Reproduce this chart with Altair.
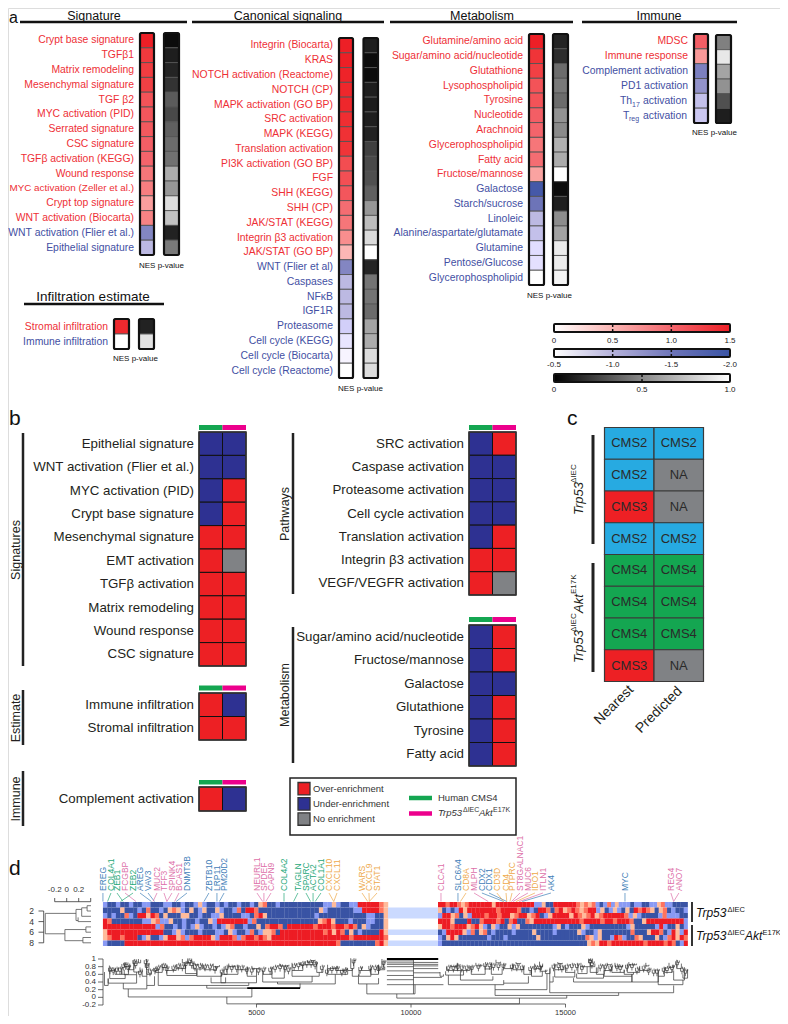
import altair as alt
import pandas as pd

FONT = "Liberation Sans"
RED_T, BLUE_T = "#ee2f36", "#434fa3"

# ---------- panel a data ----------
sig_labels = ["Crypt base signature","TGFβ1","Matrix remodeling","Mesenchymal signature","TGF β2","MYC activation (PID)",
              "Serrated signature","CSC signature","TGFβ activation (KEGG)","Wound response","MYC activation (Zeller et al.)",
              "Crypt top signature","WNT activation (Biocarta)","WNT activation (Flier et al.)","Epithelial signature"]
sig_nes = [1.5,1.35,1.32,1.3,1.15,1.12,1.1,1.05,1.0,.9,.85,.65,.82,-1.35,-.95]
sig_p = [.02,.1,.13,.2,.38,.3,.4,.45,.47,.7,.62,.88,.78,.12,.5]
can_labels = ["Integrin (Biocarta)","KRAS\u00a0\u00a0","NOTCH activation (Reactome)","NOTCH (CP)","MAPK activation (GO BP)","SRC activation",
              "MAPK (KEGG)","Translation activation","PI3K activation (GO BP)","FGF\u00a0\u00a0","SHH (KEGG)","SHH (CP)","JAK/STAT (KEGG)",
              "Integrin β3 activation","JAK/STAT (GO BP)","WNT (Flier et al)","Caspases","NFκB","IGF1R","Proteasome",
              "Cell cycle (KEGG)","Cell cycle (Biocarta)","Cell cycle (Reactome)"]
can_nes = [1.5,1.5,1.48,1.46,1.46,1.42,1.4,1.38,1.2,1.18,1.12,.95,.9,.75,.48,-1.35,-.95,-.95,-.95,-.8,-.65,-.55,-.5]
can_p = [.1,.02,.02,.1,.09,.1,.12,.26,.3,.33,.4,.62,.76,.87,1.0,.13,.48,.48,.45,.67,.7,.88,.88]
met_labels = ["Glutamine/amino acid","Sugar/amino acid/nucleotide","Glutathione","Lysophospholipid","Tyrosine","Nucleotide","Arachnoid",
              "Glycerophospholipid","Fatty acid","Fructose/mannose","Galactose","Starch/sucrose","Linoleic","Alanine/aspartate/glutamate",
              "Glutamine","Pentose/Glucose","Glycerophospholipid"]
met_nes = [1.5,1.38,1.3,1.15,1.15,1.05,1.0,.9,.95,.62,-1.9,-1.5,-.95,-.9,-.7,-.68,-.5]
met_p = [.13,.17,.45,.5,.45,.6,.57,.72,.7,1.0,.02,.1,.58,.66,.93,.93,.96]
imm_labels = ["MDSC","Immune response","Complement activation","PD1 activation\u00a0","",""]
imm_nes = [1.05,.68,-1.4,-1.25,-.9,-.85]
imm_p = [.53,.92,.67,.6,.33,.1]
inf_labels = ["Stromal infiltration","Immune infiltration"]
inf_nes = [1.45,-.5]
inf_p = [.12,.9]

# ---------- panel b/c data ----------
b_sig_labels = ["Epithelial signature","WNT activation (Flier et al.)","MYC activation (PID)","Crypt base signature","Mesenchymal signature",
                "EMT activation","TGFβ activation","Matrix remodeling","Wound response","CSC signature"]
b_sig = ["BB","BB","BR","BR","RR","RG","RR","RR","RR","RR"]
b_est_labels = ["Immune infiltration","Stromal infiltration"]
b_est = ["RB","RR"]
b_imm_labels = ["Complement activation"]
b_imm = ["RB"]
b_path_labels = ["SRC activation","Caspase activation","Proteasome activation","Cell cycle activation","Translation activation",
                 "Integrin β3 activation","VEGF/VEGFR activation"]
b_path = ["BR","BB","BB","BB","BR","RR","RG"]
b_met_labels = ["Sugar/amino acid/nucleotide","Fructose/mannose","Galactose","Glutathione","Tyrosine","Fatty acid"]
b_met = ["BR","BR","BB","BR","BR","BR"]
cms_nearest = ["CMS2","CMS2","CMS3","CMS2","CMS4","CMS4","CMS4","CMS3"]
cms_pred = ["CMS2","NA","NA","CMS2","CMS4","CMS4","CMS4","NA"]

# ---------- panel d data ----------
heat_left = [
 "bBBbBBbBBbbBBBbbBBbBBbwbBBbBbBBbBBbBwpBBbBBBBBBBBBBbbwbBBbbRRRRRpw",
 "BBBBwBBBbBpBBbBwpwbBwBbwBBwbBBbpBRRpBBBBBBBBBBBBBBwbBBBBBBbbRRRRpw",
 "bBbBBpbBRRwRpBwBBBwwBBbBBbbwBBBBbbBpRwBBBBBBBBBBBbBBBBBBBBBBBbbBBw",
 "RpBBBBBBBbbwpbbwBBbBBbBBwbRRRRRRRbpBBBBBBBBBBBBBBwpRwBBBbBBBbbBBw",
 "RRRRRRRRRRRRbpBBbBbBbwbBBbBbwpBBbBBwBpRRpBRRRRRRpRRRpRRpRpBwbBBBw",
 "wRRRRRRRRRRRRRBBbwbBBBbBBBbbBwbBBbpBbwwpBRRRRRRRRRRpRwRpBwBbBBBBRw",
 "wpRRpRRRBbwBBbwRRwpbpRRRRwbRRRpbpRRpRpwRRRRRRRRRRRRRRRRRRpRRRRRRRp",
 "bBBBBRRRRRRRRRRRRRRRRRRRRRRRRRRRRRRRRRRRRRRRRRRRRRRRRRpBBBBBBBBpRw"]
heat_right = [
 "RRpRRpwpRRRRRRwRRRRRRRRRRbbwBBRRRRRRpwpwpbBbpbwbbbBbbBBbbwpbbBBBB",
 "wBbBbRwRRRRRRRpRRRRpBBbBRRpBpRwpRpwpRRbwBbwbBwBRpRpwBwpBbBBb",
 "bRRwpBwbRRRpRRpRRwpRRwpRBbwRRRRwRpwpRwpRRRRRpbwbBBBBbpbbbBB",
 "RRRwBBBRBBpRRRpRBpRBBpwRRRRRRRRRRRpRRRRpRRpRRRpBBwRRRRRRRRRb",
 "wRRpRRRwpRwbBwbBBwbwBBBBBBBBbwBbBBBwbBBBBBBBBBbwBBBBBbRbBBwBb",
 "BbRRRRwbpBwpBbBBBBbBBBBwBBBBbBBBBBwbBBbwBBBBBBBpBBBwRRpBbRwbR",
 "bBwRwBBBBBBBbBBBbBBBBBBBwBBBBBBBBBBBpwbwBBbRpbBBpwBBBwBbpRwRp",
 "bBBBBBBBBBBBBBBBBBBBBBBBBBBBBBBBBBBBBwpwRRpRRRRRRRRpRRRRpRpBbR"]
gap_rows = [0,1,1,0,0,1,0,1]
level = {"B":-2,"b":-1.1,"w":0,"p":1,"R":2}

genes = ["EREG","COL4A1","ZEB1","FCGBP","ZEB2","AREG","VAV3","MUC2","TFF3","SPINK4","BCAS1","DNMT3B","ZBTB10","LRP11","PM20D2",
         "NEURL1","SPDEF","CAPN9","COL4A2","TAGLN","SPARC","ACTA2","COL1A1","CXCL10","CXCL11","WARS","CXCL9","STAT1","CLCA1","SLC6A4",
         "CD8A","MLPH","CDX2","CDX1","CD3D","CD4","PTPRC","ST8GALNAC1","MUC6","IDO1","ITLN1","AK4","MYC","REG4","ANO7"]
gene_group = "bggpgbbppppb bbb ppp g gggg oo ooo p b o p bb oo o p p o p b b p p".replace(" ","")
gene_lab_x = [30,290,485,745,1005,1230,1490,1780,2005,2265,2490,2750,3460,3720,3950,5015,5240,5470,5890,6340,6600,6830,7085,7345,7605,
              8415,8640,8900,10970,11520,11780,12040,12295,12525,12780,13075,13270,13525,13785,14010,14270,14530,16925,18410,18670]
gene_tgt_x = [30,180,680,1100,600,1600,1700,1650,2100,2100,2350,2400,3300,3720,3800,5200,5240,5300,5890,6200,6750,6830,6900,7500,7500,
              8600,8650,8650,10970,11520,11600,12500,13000,13100,13000,13100,13200,13250,13300,13400,13500,13600,16925,18500,18500]
group_color = {"b":"#3f80b8","g":"#25a878","p":"#dd6fa8","o":"#eea94a"}

# bracket: left gene, right gene, merge height, left-leg top, right-leg top
col_tree = [
 (4040,13510,-.17,.01,-.02),(850,4850,.01,.22,.24),(690,1450,.22,.37,.31),(200,1120,.37,.49,.59),(80,200,.31,.66,.49),
 (1450,1700,.31,.55,.55),(250,750,.49,.70,.60),(240,420,.70,.83,.74),(420,640,.60,.72,.76),(640,860,.60,.68,.77),(720,1120,.59,.72,.66),
 (880,1030,.72,.85,.80),(740,900,.80,.92,.88),(1030,1230,.66,.98,.78),(1180,1250,.90,1.0,.98),(1300,1450,.55,.75,.70),
 (1440,1520,.72,1.0,.9),(1450,1600,.60,.7,.65),(1820,4750,.31,.65,.38),(1730,1950,.65,.7,.78),(1950,2100,.78,.88,.85),(1700,1820,.7,.76,.76),
 (2100,3070,.57,.7,.62),(2100,2400,.7,.85,.75),(2400,2700,.75,.86,.9),(2600,2800,.9,1.0,.93),(2700,3070,.62,.82,.74),(2780,2900,.90,1.02,.98),
 (2950,3250,.74,.9,.85),(3000,3100,.85,.9,.88),(3530,4000,.38,.52,.52),(3070,3870,.55,.72,.6),(3300,3700,.72,.85,.8),(3600,3800,.8,.88,.84),
 (3870,4050,.6,.66,.78),(3850,5000,.38,.6,.55),(3950,4400,.6,.8,.72),(4100,4300,.8,.88,.84),(4400,4700,.72,.85,.78),(4700,5000,.55,.8,.75),
 (4850,5100,.75,.82,.78),(3390,6410,.24,.31,.36),(5680,7550,.35,.40,.60),(5200,6800,.40,.6,.55),(5200,5500,.6,.72,.8),(5500,5900,.5,.68,.82),
 (5750,6050,.82,.88,.85),(6150,7030,.55,.7,.65),(6150,6500,.7,.9,.85),(6400,6950,.85,.9,.92),(6650,6950,.92,.96,.94),(6750,6900,.96,.99,.98),
 (6950,7150,.65,.86,.75),(7300,7950,.60,.75,.7),(7300,7600,.75,.85,.8),(7600,7900,.7,.82,.78),(7950,8100,.7,.75,.75),(8050,8150,.75,1.02,.98),
 (8100,8300,.55,.75,.6),(8570,10130,.09,.35,.33),(8300,8950,.35,.55,.5),(8320,8700,.55,.7,.75),(8700,8950,.6,.78,.85),(8950,9150,.72,.85,.8),
 (8400,8700,.7,.78,.74),(9060,9120,.75,1.0,.95),(10940,11050,.55,.66,.6),(9540,15040,-.02,.09,.05),(12720,16720,.05,.20,.12),
 (12720,14400,.20,.33,.62),(11210,13000,.33,.58,.37),(13000,13800,.37,.45,.55),(11120,11700,.58,.68,.7),(11150,11500,.7,.8,.74),
 (11300,11500,.8,.85,.88),(11600,12650,.45,.7,.55),(11500,11900,.7,.9,.8),(11950,12400,.6,.82,.74),(12100,12300,.82,.9,.85),
 (12400,12600,.74,.85,.8),(12600,12950,.6,.9,.75),(12750,12900,.9,.98,.93),(13000,13300,.75,.88,.85),(13300,13650,.72,.88,.8),
 (13400,13550,.88,.92,.9),(13650,13900,.6,.8,.7),(13900,14250,.55,.75,.68),(14000,14200,.75,.88,.82),(14200,14400,.68,.8,.72),
 (14350,14500,.62,.72,.78),(14160,14260,.8,.93,.88),(14490,18500,.12,.40,.31),(14490,14600,.40,.75,.55),(14650,15300,.53,.72,.65),
 (14650,14950,.72,.88,.8),(14750,14900,.88,.92,.9),(15000,15300,.65,.78,.72),(15260,17150,.40,.5,.55),(15360,16230,.5,.62,.6),
 (15400,15700,.62,.88,.8),(15500,15950,.8,.9,.88),(15800,16050,.65,.88,.78),(15750,15850,.9,1.01,.95),(15780,15820,.95,1.0,1.0),
 (16000,16250,.6,.78,.7),(16250,17150,.55,.7,.6),(16250,16500,.7,.85,.8),(16350,16500,.85,.9,.88),(16500,16900,.65,.8,.72),
 (16600,16850,.8,.9,.85),(16900,17200,.6,.72,.65),(17000,17400,.65,.85,.75),(17050,17300,.85,.92,.88),(17400,17700,.7,.82,.76),
 (17600,17700,.82,.9,.85),(18000,18800,.33,.55,.45),(18000,18200,.55,.72,.65),(18200,18450,.65,.78,.72),(18350,18500,.78,.9,.85),
 (18500,18850,.45,.7,.75),(18600,18750,.75,.98,.88),(18800,18950,.5,.6,.72),(17150,18000,.40,.6,.65)]
chain_left = [.95,.90,.86,.80,.69,.57,.46,.33]
chain_right = [1.0,.91,.86,.82,.75,.64,.52,.33]
chain_right_end = [10880,10880,10880,10880,10880,10940,11000,11050]
# small terminal tufts: position on the gene axis, height of the tip
tuft_gene = [256,364,472,580,688,764,850,1044,1088,1228,1412,1444,1552,1714,1822,1984,2092,2308,2470,2600,2708,2826,2902,3010,3172,3334,3496,
             3658,3874,4036,4198,4360,4522,4684,4846,5062,5224,5440,5602,5764,5926,6034,6218,6358,6488,6628,6768,6898,7114,7276,7438,7600,7762,
             7870,8140,8356,8680,8842,8950,9112,11210,11372,11512,11642,11804,11966,12182,12398,12538,12668,12830,12992,13262,13424,13586,13856,
             14018,14180,14612,14774,14882,15044,15206,15368,15530,15800,15854,16124,16286,16448,16664,16772,16988,17150,17312,17528,17690,17852,
             17960,18176,18284,18446,18608,18770,18878]
tuft_top = [.8,.78,.8,.8,.9,.92,.85,1.0,.95,.72,1.0,.9,.75,.8,.85,.9,.82,.85,.9,.88,.95,1.02,.95,.88,.9,.88,.88,.82,.75,.85,.85,.85,.85,.8,.78,.78,.8,.8,
            .85,.87,.85,.8,.9,.92,.95,.97,.97,.93,.85,.75,.82,.82,.75,.78,1.02,.82,.85,.85,.82,.98,.85,.85,.88,.85,.85,.85,.88,.92,.92,.9,.9,.9,.88,.88,.85,.82,
            .85,.85,.88,.9,.85,.88,.9,.9,.85,1.02,.95,.88,.88,.85,.88,.85,.88,.9,.8,.85,.78,.75,.75,.8,.82,.85,.97,.8,.75]

# row dendrogram: height1, row1, height2, row2
row_tree = [(-.357,2.45,-.357,6.3),(-.357,2.45,.155,2.45),(.155,1.7,.155,3.8),(.155,1.7,.25,1.7),(.155,3.8,.19,3.8),(.19,3.2,.19,4),
            (.19,4,.405,4),(.25,1.4,.25,3),(.25,3,.405,3),(.25,1.4,.34,1.4),(.34,1,.34,2),(.34,1,.405,1),(.34,2,.405,2),
            (-.357,6.3,-.03,6.3),(-.03,5.5,-.03,7.6),(-.03,5.5,.32,5.5),(.32,5,.32,6),(.32,5,.405,5),(.32,6,.405,6),
            (-.03,7.6,.27,7.6),(.27,7,.27,8),(.27,7,.405,7),(.27,8,.405,8)]

# ---------- helpers ----------
def ps(dom, a, b):
    return alt.Scale(domain=dom, range=[a-8, b-8], nice=False, zero=False)
def X(f, s): return alt.X(f, type="quantitative", scale=s, axis=None)
def Y(f, s): return alt.Y(f, type="quantitative", scale=s, axis=None)
def V(v): return alt.value(v-8)

nes_scale = alt.Scale(domain=[-2,-1.5,-1,-.5,0,.5,1,1.5],
                      range=["#3953a4","#6d74b8","#b5b2db","#ffffff","#ffffff","#fab5b3","#f3646b","#ed1f26"], clamp=True)
gray_scale = alt.Scale(domain=[0,1], range=["#050505","#ffffff"])
enrich_scale = alt.Scale(domain=["R","B","G"], range=["#ed2024","#2e3192","#808285"])
cms_scale = alt.Scale(domain=["CMS2","CMS3","CMS4","NA"], range=["#27aae1","#ed2024","#14a651","#808285"])
heat_scale = alt.Scale(domain=[-2,0,2], range=["#3953a4","#ffffff","#ed1c24"])

def txt(s, x, y, size=10, color="#111", italic=False, align="left", angle=0, baseline="alphabetic"):
    kw = dict(fontStyle="italic") if italic else {}
    return alt.Chart(pd.DataFrame({"t":[s]})).mark_text(fontSize=size, color=color, align=align, angle=angle, baseline=baseline, font=FONT, **kw).encode(
        x=V(x), y=V(y), text="t:N")
def hrule(x1, x2, y, w=2.5, color="#111"):
    return alt.Chart(pd.DataFrame({"a":[0]})).mark_rule(strokeWidth=w, color=color).encode(x=V(x1), x2=V(x2), y=V(y))
def vrule(x, y1, y2, w=2.5, color="#222"):
    return alt.Chart(pd.DataFrame({"a":[0]})).mark_rule(strokeWidth=w, color=color).encode(x=V(x), y=V(y1), y2=V(y2))

def strip(vals, scale, xa, xb, ya, yb, labels=None, lab_gap=6):
    n = len(vals)
    df = pd.DataFrame({"x0":0,"x1":1,"r0":range(n),"r1":[i+1 for i in range(n)],"v":vals})
    sx, sy = ps([0,1],xa,xb), ps([0,n],ya,yb)
    rects = alt.Chart(df).mark_rect(stroke="#555", strokeWidth=.9).encode(
        x=X("x0",sx), x2=alt.X2("x1"), y=Y("r0",sy), y2=alt.Y2("r1"), color=alt.Color("v:Q",scale=scale,legend=None))
    fr = alt.Chart(pd.DataFrame({"x0":[0],"x1":[1],"r0":[0],"r1":[n]})).mark_rect(fillOpacity=0, stroke="#111", strokeWidth=2.2, cornerRadius=1.5).encode(
        x=X("x0",sx), x2=alt.X2("x1"), y=Y("r0",sy), y2=alt.Y2("r1"))
    parts = [rects, fr]
    if labels is not None:
        ld = pd.DataFrame({"x0":0,"r":[i+.5 for i in range(n)],"t":labels,"v":vals,
                           "fs":[9.9 if "Zeller" in t else 10.4 for t in labels]})
        for col, flt in ((RED_T, ld.v>0),(BLUE_T, ld.v<=0)):
            parts.append(alt.Chart(ld[flt]).mark_text(align="right", baseline="middle", color=col, dx=-lab_gap, font=FONT).encode(
                x=X("x0",sx), y=Y("r",sy), text="t:N", size=alt.Size("fs:Q",scale=None)))
    return alt.layer(*parts)

def enrich(rows, labels, xa, xb, ya, yb, stroke="#111"):
    n = len(rows)
    recs = [{"c":j,"c1":j+1,"r":i,"r1":i+1,"k":rows[i][j]} for i in range(n) for j in range(2)]
    sx, sy = ps([0,2],xa,xb), ps([0,n],ya,yb)
    p = [alt.Chart(pd.DataFrame(recs)).mark_rect(stroke=stroke, strokeWidth=1).encode(
            x=X("c",sx), x2=alt.X2("c1"), y=Y("r",sy), y2=alt.Y2("r1"), color=alt.Color("k:N",scale=enrich_scale,legend=None)),
         alt.Chart(pd.DataFrame({"c":[0],"c1":[2],"r":[0],"r1":[n]})).mark_rect(fillOpacity=0, stroke="#333", strokeWidth=1.5).encode(
            x=X("c",sx), x2=alt.X2("c1"), y=Y("r",sy), y2=alt.Y2("r1")),
         alt.Chart(pd.DataFrame({"c":0,"r":[i+.5 for i in range(n)],"t":labels})).mark_text(align="right", baseline="middle", fontSize=13.3, color="#231f20", dx=-5, font=FONT).encode(
            x=X("c",sx), y=Y("r",sy), text="t:N")]
    return alt.layer(*p)

def top_bar(xa, xb, ya, yb):
    sx = ps([0,2],xa,xb)
    d = pd.DataFrame({"c":[0,1],"c1":[1,2],"k":["Human CMS4","Trp53"]})
    return alt.Chart(d).mark_rect().encode(x=X("c",sx), x2=alt.X2("c1"), y=V(ya), y2=V(yb),
        color=alt.Color("k:N",scale=alt.Scale(domain=["Human CMS4","Trp53"],range=["#14a651","#ec008c"]),legend=None))

def cbar(dom, ticks, tick_labels, stops, xa, xb, ya, yb, ylab, marks):
    sx = ps(dom,xa,xb)
    grad = alt.LinearGradient(gradient="linear", x1=0, x2=1, y1=0, y2=0,
             stops=[alt.GradientStop(color=c, offset=o) for o,c in stops])
    bar = alt.Chart(pd.DataFrame({"a":[dom[0]],"b":[dom[1]]})).mark_rect(color=grad, stroke="#111", strokeWidth=2, cornerRadius=1).encode(
        x=X("a",sx), x2=alt.X2("b"), y=V(ya), y2=V(yb))
    tk1 = alt.Chart(pd.DataFrame({"v":marks})).mark_rule(color="#111", strokeWidth=1.5).encode(x=X("v",sx), y=V(ya), y2=V(ya+3))
    tk2 = alt.Chart(pd.DataFrame({"v":marks})).mark_rule(color="#111", strokeWidth=1.5).encode(x=X("v",sx), y=V(yb-3), y2=V(yb))
    lab = alt.Chart(pd.DataFrame({"v":ticks,"t":tick_labels})).mark_text(fontSize=8, color="#222", font=FONT).encode(x=X("v",sx), y=V(ylab), text="t:N")
    return alt.layer(bar,tk1,tk2,lab)

panels = []

# ---------- panel a ----------
panels += [txt("a",9,23,16), txt("b",9,425,21), txt("c",567,425,21), txt("d",9,875,21)]
for s,cx,(x1,x2) in (("Signature",94,(20,187)),("Canonical signaling",288,(192,384)),("Metabolism",482,(390,573)),("Immune",659,(582,737))):
    panels += [txt(s,cx,19.5,12.5,align="center"), hrule(x1,x2,22)]
panels += [txt("Infiltration estimate",93,301,13.5,align="center"), hrule(24,164,304)]
panels += [strip(sig_nes,nes_scale,140,154,33,255,sig_labels), strip(sig_p,gray_scale,164,179,33,255)]
panels += [strip(can_nes,nes_scale,339,353,38,378,can_labels), strip(can_p,gray_scale,363.5,378,38,378)]
panels += [strip(met_nes,nes_scale,529,544,34,285,met_labels), strip(met_p,gray_scale,553,568,34,285)]
panels += [strip(imm_nes,nes_scale,694,708,34,123,imm_labels), strip(imm_p,gray_scale,716,731,35,123)]
panels += [strip(inf_nes,nes_scale,114,129,319,349,inf_labels), strip(inf_p,gray_scale,139,154,319,349)]
for x,y in ((139,268),(338,391),(527,298),(692,135),(113,361)):
    panels.append(txt("NES p-value",x,y,8))
panels += [txt("Th",620,104,10.4,BLUE_T), txt("17",632,107,7,BLUE_T), txt("activation",687,103.5,10.4,BLUE_T,align="right"),
           txt("T",623,118.5,10.4,BLUE_T), txt("reg",629,121,7,BLUE_T), txt("activation",687,118.5,10.4,BLUE_T,align="right")]
panels += [
 cbar([0,1.5],[0,.5,1,1.5],["0","0.5","1.0","1.5"],[(0,"#ffffff"),(.33,"#fab5b3"),(.67,"#f3646b"),(1,"#ed1f26")],554,730,324,332,341,[.5,1]),
 cbar([-.5,-2],[-.5,-1,-1.5,-2],["-0.5","-1.0","-1.5","-2.0"],[(0,"#ffffff"),(.33,"#b5b2db"),(.67,"#6d74b8"),(1,"#3953a4")],554,730,349,357,365,[-1,-1.5]),
 cbar([0,1],[0,.5,1],["0","0.5","1.0"],[(0,"#000000"),(.5,"#888888"),(1,"#ffffff")],554,730,374,382,390,[.5])]

# ---------- panel b ----------
panels += [enrich(b_sig,b_sig_labels,199,246,432,666), top_bar(199,246,425,430),
           enrich(b_est,b_est_labels,199,246,693,740), top_bar(199,246,685.5,690.5),
           enrich(b_imm,b_imm_labels,199,246,787,811), top_bar(199,246,780,784.5),
           enrich(b_path,b_path_labels,469,516,432,595), top_bar(469,516,425,430),
           enrich(b_met,b_met_labels,469,516,625,766), top_bar(469,516,617,622)]
panels += [vrule(23,433,666), vrule(23,690,745), vrule(23,771,826), vrule(293,433,594), vrule(293,627,763)]
for s,x,y in (("Signatures",16,550),("Estimate",16,718),("Immune",16,799),("Pathways",285,514),("Metabolism",285,695)):
    panels.append(txt(s,x,y,12.5,"#231f20",align="center",angle=270,baseline="middle"))

# legend of panel b
lg = alt.Chart(pd.DataFrame({"a":[0]})).mark_rect(fillOpacity=0, stroke="#222", strokeWidth=1.5).encode(x=V(290), x2=V(516), y=V(778), y2=V(835))
panels.append(lg)
leg_k, leg_t = ["R","B","G"], ["Over-enrichment","Under-enrichment","No enrichment"]
sly = ps([0,3],782.5,828)
leg_df = pd.DataFrame({"i":[0,1,2],"i1":[.82,1.82,2.82],"k":leg_k,"t":leg_t,"m":[.42,1.42,2.42]})
panels.append(alt.layer(
    alt.Chart(leg_df).mark_rect(stroke="#333", strokeWidth=1.3).encode(x=V(298), x2=V(310), y=Y("i",sly), y2=alt.Y2("i1"),
        color=alt.Color("k:N",scale=enrich_scale,legend=None)),
    alt.Chart(leg_df).mark_text(align="left", baseline="middle", fontSize=9.5, color="#333", font=FONT).encode(x=V(313), y=Y("m",sly), text="t:N")))
panels += [hrule(409,432,798,4.5,"#14a651"), hrule(409,432,813.5,4.5,"#ec008c"), txt("Human CMS4",438,801,9.5,"#333"),
           txt("Trp53",438,815.5,9.5,"#333",True), txt("ΔIEC",463,811.5,7,"#333"), txt("Akt",479,815.5,9.5,"#333",True), txt("E17K",493,811.5,7,"#333")]

# ---------- panel c ----------
c_rows = [{"c":j,"c1":j+1,"r":i,"r1":i+1,"m":i+.5,"n":j+.5,"k":(cms_nearest,cms_pred)[j][i]} for i in range(8) for j in range(2)]
csx, csy = ps([0,2],604.5,703.5), ps([0,8],427.5,681.5)
panels.append(alt.layer(
    alt.Chart(pd.DataFrame(c_rows)).mark_rect(stroke="#3a3a3a", strokeWidth=1.2).encode(x=X("c",csx), x2=alt.X2("c1"), y=Y("r",csy), y2=alt.Y2("r1"),
        color=alt.Color("k:N",scale=cms_scale,legend=None)),
    alt.Chart(pd.DataFrame(c_rows)).mark_text(fontSize=13, color="#2a2a2a", baseline="middle", font=FONT).encode(x=X("n",csx), y=Y("m",csy), text="k:N")))
panels += [vrule(593,435,544,3), vrule(593,563,672,3),
           txt("Nearest",614,705,14,"#231f20",align="center",angle=315,baseline="middle"),
           txt("Predicted",659,710,14,"#231f20",align="center",angle=315,baseline="middle")]
panels += [txt("Trp53",583,515,13,"#231f20",True,angle=270), txt("ΔIEC",576,483,8,"#231f20",angle=270),
           txt("Trp53",583,663,13,"#231f20",True,angle=270), txt("ΔIEC",576,632,8,"#231f20",angle=270),
           txt("Akt",583,613,13,"#231f20",True,angle=270), txt("E17K",576,594,8,"#231f20",angle=270)]

# ---------- panel d ----------
gx = ps([0,19000],102,102+19000*.0309)
gx_left, gx_gap0, gx_gap1, gx_right = 30, 9255, 10873, 18960
recs = []
for r in range(8):
    w = (gx_gap0-gx_left)/len(heat_left[r])
    for i,ch in enumerate(heat_left[r]):
        recs.append({"a":gx_left+i*w,"b":gx_left+(i+1)*w+8,"r":r,"r1":r+1,"v":level[ch]})
    w = (gx_right-gx_gap1)/len(heat_right[r])
    for i,ch in enumerate(heat_right[r]):
        recs.append({"a":gx_gap1+i*w,"b":gx_gap1+(i+1)*w+(8 if i<len(heat_right[r])-1 else 0),"r":r,"r1":r+1,"v":level[ch]})
    if gap_rows[r]:
        recs.append({"a":gx_gap0,"b":gx_gap1,"r":r,"r1":r+1,"v":-.36})
hsy = ps([0,8],902,946)
panels.append(alt.Chart(pd.DataFrame(recs)).mark_rect().encode(x=X("a",gx), x2=alt.X2("b"), y=Y("r",hsy), y2=alt.Y2("r1"),
    color=alt.Color("v:Q",scale=heat_scale,legend=None)))

gd = pd.DataFrame({"g":genes,"x":gene_lab_x,"x2":gene_tgt_x,"col":[group_color[c] for c in gene_group]})
panels.append(alt.layer(
    alt.Chart(gd).mark_text(angle=270, align="left", baseline="middle", fontSize=8.5, font=FONT).encode(x=X("x",gx), y=V(891), text="g:N",
        color=alt.Color("col:N",scale=None)),
    alt.Chart(gd).mark_rule(strokeWidth=.7).encode(x=X("x",gx), x2=alt.X2("x2"), y=V(893), y2=V(901.5), color=alt.Color("col:N",scale=None))))

panels += [vrule(692,902,922,1.6,"#000"), vrule(692,925,946,1.6,"#000"),
           txt("Trp53",696,917,12,"#111",True), txt("ΔIEC",727.5,912,7.5,"#111"),
           txt("Trp53",696,940,12,"#111",True), txt("ΔIEC",727.5,935,7.5,"#111"), txt("Akt",745,940,12,"#111",True), txt("E17K",762.5,935,7.5,"#111")]

# column dendrogram
hy = ps([1,-.2],959,1005)
segs = []
for a,b,h,hl,hr in col_tree:
    segs += [(a,h,b,h),(a,h,a,hl),(b,h,b,hr)]
for g,t in zip(tuft_gene,tuft_top):
    segs += [(g,t-.2,g,t-.12),(g-45,t-.12,g+45,t-.12),(g-45,t-.12,g-45,t-.03),(g+45,t-.12,g+45,t-.06),
             (g+15,t-.06,g+75,t-.06),(g+15,t-.06,g+15,t),(g+75,t-.06,g+75,t-.01)]
for h in chain_left:
    segs.append((9220,h,10080,h))
for h,e in zip(chain_right,chain_right_end):
    segs.append((10080,h,e,h))
segs.append((10080,.09,10080,1.0))
sd = pd.DataFrame(segs,columns=["x","h","x2","h2"])
thick = pd.DataFrame({"x":[4700,9220],"x2":[6410,10880],"h":[.24,1.0]})
ticks_h = [1,.8,.6,.4,.2,0,-.2]
tick_lab = ["1","0.8","0.6","0.4","0.2","0","-0.2"]
ax_x = pd.DataFrame({"v":[5000,10000,15000],"t":["5000","10000","15000"]})
panels.append(alt.layer(
    alt.Chart(sd).mark_rule(strokeWidth=.7, color="#333").encode(x=X("x",gx), x2=alt.X2("x2"), y=Y("h",hy), y2=alt.Y2("h2")),
    alt.Chart(thick).mark_rule(strokeWidth=1.8, color="#000").encode(x=X("x",gx), x2=alt.X2("x2"), y=Y("h",hy)),
    alt.Chart(pd.DataFrame({"h":[-.2],"h2":[1.0]})).mark_rule(strokeWidth=.8, color="#444").encode(x=V(103), y=Y("h",hy), y2=alt.Y2("h2")),
    alt.Chart(pd.DataFrame({"h":ticks_h})).mark_rule(strokeWidth=.8, color="#444").encode(x=V(98), x2=V(103), y=Y("h",hy)),
    alt.Chart(pd.DataFrame({"h":ticks_h,"t":tick_lab})).mark_text(align="right", baseline="middle", fontSize=8, color="#333", font=FONT).encode(x=V(96), y=Y("h",hy), text="t:N"),
    alt.Chart(pd.DataFrame({"a":[5000],"b":[15000]})).mark_rule(strokeWidth=.8, color="#444").encode(x=X("a",gx), x2=alt.X2("b"), y=V(1004)),
    alt.Chart(ax_x).mark_rule(strokeWidth=.8, color="#444").encode(x=X("v",gx), y=V(1004), y2=V(1007.5)),
    alt.Chart(ax_x).mark_text(fontSize=7.5, color="#333", font=FONT, baseline="alphabetic").encode(x=X("v",gx), y=V(1014.5), text="t:N")))

# row dendrogram
rx = ps([-.2,.4],54.7,90.7)
ry = ps([1,8],905.7,942.8)
rd = pd.DataFrame(row_tree,columns=["h","r","h2","r2"])
tops = pd.DataFrame({"v":[-.2,0,.2,.4]})
tl = pd.DataFrame({"v":[-.2,0,.2],"t":["-0.2","0","0.2"]})
rr = pd.DataFrame({"r":[2,4,6,8]})
panels.append(alt.layer(
    alt.Chart(rd).mark_rule(strokeWidth=.8, color="#555").encode(x=X("h",rx), x2=alt.X2("h2"), y=Y("r",ry), y2=alt.Y2("r2")),
    alt.Chart(pd.DataFrame({"a":[-.2],"b":[.4]})).mark_rule(strokeWidth=.8, color="#333").encode(x=X("a",rx), x2=alt.X2("b"), y=V(901.7)),
    alt.Chart(tops).mark_rule(strokeWidth=.8, color="#333").encode(x=X("v",rx), y=V(898), y2=V(901.7)),
    alt.Chart(tl).mark_text(fontSize=8, color="#333", font=FONT).encode(x=X("v",rx), y=V(890), text="t:N"),
    alt.Chart(pd.DataFrame({"a":[2],"b":[8]})).mark_rule(strokeWidth=.8, color="#333").encode(x=V(43.7), y=Y("a",ry), y2=alt.Y2("b")),
    alt.Chart(rr).mark_rule(strokeWidth=.8, color="#333").encode(x=V(38.5), x2=V(43.7), y=Y("r",ry)),
    alt.Chart(rr).mark_text(align="right", baseline="middle", fontSize=8.5, color="#333", font=FONT).encode(x=V(34), y=Y("r",ry), text="r:N")))

chart = alt.layer(*panels).resolve_scale(x="independent", y="independent", color="independent").properties(
    width=772, height=1008, padding=0, autosize=alt.AutoSizeParams(type="none")
).configure_view(stroke=None).configure(font=FONT)

chart.save("out.html", embed_options={"renderer":"svg","actions":False})
